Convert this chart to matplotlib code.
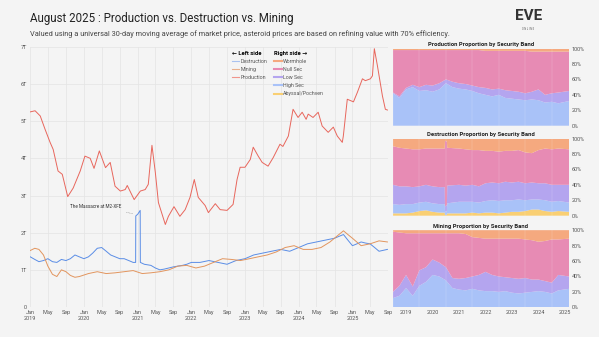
import matplotlib
matplotlib.use("Agg")
import matplotlib.pyplot as plt
import matplotlib.dates as mdates
from matplotlib.lines import Line2D
import pandas as pd

plt.rcParams['font.family'] = ['Roboto', 'DejaVu Sans']

# Left side: 30-day moving averages, in trillions ISK
prod_dates = ['2019-01-01', '2019-02-03', '2019-03-10', '2019-04-12', '2019-05-16', '2019-06-06',
              '2019-07-09', '2019-08-07', '2019-09-13', '2019-10-20', '2019-12-07', '2020-01-08',
              '2020-02-13', '2020-03-10', '2020-04-15', '2020-05-27', '2020-06-28', '2020-07-31',
              '2020-09-05', '2020-10-08', '2020-10-22', '2020-12-08', '2021-01-19', '2021-02-21',
              '2021-03-14', '2021-04-08', '2021-05-01', '2021-05-22', '2021-07-08', '2021-07-29',
              '2021-09-05', '2021-10-15', '2021-11-20', '2021-12-23', '2022-01-21', '2022-02-17',
              '2022-04-05', '2022-04-27', '2022-06-13', '2022-07-16', '2022-09-01', '2022-10-12',
              '2022-11-08', '2022-11-29', '2023-01-01', '2023-02-06', '2023-02-26', '2023-04-01',
              '2023-04-28', '2023-06-07', '2023-07-12', '2023-08-27', '2023-09-16', '2023-10-23',
              '2023-11-24', '2023-12-28', '2024-01-25', '2024-02-21', '2024-03-06', '2024-04-08',
              '2024-05-13', '2024-06-09', '2024-07-20', '2024-08-24', '2024-09-20', '2024-10-24',
              '2024-10-31', '2024-11-27', '2025-01-08', '2025-02-04', '2025-03-10', '2025-03-30',
              '2025-05-03', '2025-05-17', '2025-05-30', '2025-06-20', '2025-07-24', '2025-08-13',
              '2025-08-27']
production = [5.25, 5.28, 5.14, 4.78, 4.43, 4.24, 3.66, 3.57, 2.97, 3.2, 3.66, 4.06,
              4.0, 3.73, 4.2, 3.75, 3.89, 3.25, 3.12, 3.16, 3.27, 2.89, 3.12, 3.16,
              3.3, 4.35, 3.62, 2.81, 2.22, 2.44, 2.7, 2.44, 2.62, 2.95, 3.43, 2.95,
              2.73, 2.54, 2.78, 2.62, 2.6, 2.76, 3.43, 3.76, 3.76, 3.97, 4.3, 4.06,
              3.89, 3.79, 4.02, 4.38, 4.32, 4.6, 5.32, 5.1, 5.24, 5.05, 5.19, 5.1,
              5.24, 4.87, 4.7, 4.84, 4.6, 4.43, 4.6, 5.59, 5.52, 5.78, 6.14, 6.09,
              6.14, 6.22, 6.95, 6.49, 5.68, 5.32, 5.3]

destr_dates = ['2019-01-01', '2019-02-01', '2019-03-01', '2019-04-01', '2019-05-01', '2019-06-01',
               '2019-07-01', '2019-08-01', '2019-09-01', '2019-10-01', '2019-11-01', '2019-12-01',
               '2020-01-01', '2020-02-01', '2020-03-01', '2020-04-01', '2020-05-01', '2020-06-01',
               '2020-07-01', '2020-08-01', '2020-09-01', '2020-10-01', '2020-11-01', '2020-12-01',
               '2020-12-18', '2020-12-19', '2021-01-02', '2021-01-18', '2021-01-19', '2021-02-15',
               '2021-04-01', '2021-05-01', '2021-06-01', '2021-07-01', '2021-08-01', '2021-09-01',
               '2021-10-01', '2021-11-01', '2021-12-01', '2022-01-01', '2022-03-01', '2022-05-01',
               '2022-07-01', '2022-09-01', '2022-11-01', '2023-01-01', '2023-03-01', '2023-05-01',
               '2023-07-01', '2023-09-01', '2023-11-01', '2024-01-01', '2024-03-01', '2024-05-01',
               '2024-07-01', '2024-09-01', '2024-10-01', '2024-11-01', '2024-12-01', '2025-01-01',
               '2025-02-01', '2025-03-01', '2025-04-01', '2025-05-01', '2025-06-01', '2025-07-01',
               '2025-08-27']
destruction = [1.35, 1.28, 1.22, 1.25, 1.3, 1.22, 1.2, 1.28, 1.25, 1.3, 1.4, 1.35,
               1.3, 1.35, 1.45, 1.58, 1.6, 1.5, 1.4, 1.35, 1.3, 1.3, 1.25, 1.2,
               1.2, 2.45, 2.5, 2.6, 1.2, 1.15, 1.12, 1.05, 1.0, 1.02, 1.05, 1.08,
               1.1, 1.12, 1.15, 1.2, 1.2, 1.25, 1.2, 1.15, 1.25, 1.3, 1.4, 1.45,
               1.5, 1.55, 1.5, 1.6, 1.7, 1.75, 1.8, 1.85, 1.9, 1.95, 1.8, 1.65,
               1.7, 1.75, 1.72, 1.7, 1.6, 1.5, 1.55]

mining_dates = ['2019-01-01', '2019-02-01', '2019-03-01', '2019-04-01', '2019-05-01', '2019-06-01',
                '2019-07-01', '2019-08-01', '2019-09-01', '2019-10-01', '2019-11-01', '2019-12-01',
                '2020-02-01', '2020-04-01', '2020-06-01', '2020-08-01', '2020-10-01', '2020-12-01',
                '2021-02-01', '2021-04-01', '2021-06-01', '2021-08-01', '2021-10-01', '2021-12-01',
                '2022-02-01', '2022-04-01', '2022-06-01', '2022-08-01', '2022-10-01', '2022-12-01',
                '2023-02-01', '2023-04-01', '2023-06-01', '2023-08-01', '2023-10-01', '2023-12-01',
                '2024-02-01', '2024-04-01', '2024-06-01', '2024-08-01', '2024-10-01', '2024-11-01',
                '2024-12-01', '2025-01-01', '2025-03-01', '2025-05-01', '2025-07-01', '2025-08-27']
mining = [1.52, 1.58, 1.55, 1.4, 1.1, 0.88, 0.82, 1.0, 0.95, 0.85, 0.8, 0.82,
          0.9, 0.95, 0.9, 0.92, 0.95, 0.98, 0.9, 0.92, 0.95, 1.0, 1.1, 1.12,
          1.05, 1.1, 1.2, 1.3, 1.28, 1.25, 1.3, 1.35, 1.4, 1.48, 1.6, 1.65,
          1.55, 1.55, 1.6, 1.75, 1.95, 2.05, 1.95, 1.85, 1.65, 1.7, 1.78, 1.75]

# Right side: share (%) per security band
band_dates = ['2019-01-01', '2019-04-01', '2019-07-01', '2019-10-01', '2020-01-01', '2020-04-01',
              '2020-07-01', '2020-10-01', '2021-01-01', '2021-04-01', '2021-07-01', '2021-10-01',
              '2022-01-01', '2022-04-01', '2022-07-01', '2022-10-01', '2023-01-01', '2023-04-01',
              '2023-07-01', '2023-10-01', '2024-01-01', '2024-04-01', '2024-07-01', '2024-10-01',
              '2025-01-01', '2025-04-01', '2025-08-27']
prod_abyssal = [0] * 27
prod_high = [42, 36, 47, 50, 45, 46, 44, 47, 55, 50, 48, 47, 45, 42, 40, 38, 40, 36, 35, 34, 33, 34, 33, 30, 31, 29, 32]
prod_low = [1, 2, 2, 3, 5, 7, 8, 8, 5, 7, 7, 7, 7, 8, 9, 9, 8, 10, 10, 10, 9, 10, 14, 10, 11, 14, 13]
prod_null = [55, 60, 49, 45, 48, 45, 46, 43, 38, 41, 43, 44, 46, 48, 48, 50, 49, 51, 52, 53, 55, 52, 49, 56, 54, 53, 51]
prod_wh = [2] * 14 + [3] * 7 + [4] * 6

mine_abyssal = [0] * 27
mine_high = [12, 15, 25, 15, 28, 33, 42, 40, 35, 25, 23, 22, 24, 22, 21, 21, 20, 21, 19, 18, 19, 20, 21, 20, 18, 22, 24]
mine_low = [8, 13, 17, 12, 20, 19, 20, 18, 17, 13, 14, 16, 16, 20, 25, 21, 20, 18, 19, 19, 19, 16, 15, 14, 14, 20, 16]
mine_null = [78, 69, 54, 69, 48, 44, 34, 38, 44, 58, 59, 57, 51, 48, 43, 47, 49, 50, 51, 52, 50, 51, 49, 52, 56, 46, 49]
mine_wh = [2, 3, 4, 4, 4, 4, 4, 4, 4, 4, 4, 5, 9, 10, 11, 11, 11, 11, 11, 11, 12, 13, 15, 14, 12, 12, 11]

destr_band_dates = ['2019-01-01', '2019-04-01', '2019-07-01', '2019-10-01', '2020-01-01', '2020-04-01',
                    '2020-07-01', '2020-10-01', '2020-12-16', '2020-12-19', '2021-01-15', '2021-01-19',
                    '2021-07-01', '2021-10-01', '2022-01-01', '2022-04-01', '2022-07-01', '2022-10-01',
                    '2023-01-01', '2023-04-01', '2023-07-01', '2023-10-01', '2024-01-01', '2024-04-01',
                    '2024-07-01', '2024-10-01', '2025-01-01', '2025-04-01', '2025-08-27']
destr_abyssal = [3, 3, 3, 4, 6, 7, 5, 4, 4, 1, 1, 3, 3, 3, 4, 3, 4, 4, 3, 4, 5, 5, 6, 8, 8, 6, 5, 6, 5]
destr_high = [12, 11, 12, 11, 11, 11, 11, 11, 11, 4, 5, 13, 15, 15, 14, 14, 15, 16, 16, 16, 15, 16, 14, 13, 13, 14, 13, 13, 12]
destr_low = [25, 24, 23, 22, 21, 22, 22, 22, 22, 7, 8, 23, 22, 21, 22, 21, 23, 23, 23, 24, 23, 23, 22, 22, 21, 22, 22, 21, 23]
destr_null = [50, 50, 49, 49, 48, 47, 49, 50, 50, 85, 82, 49, 47, 47, 45, 47, 42, 41, 41, 40, 41, 41, 40, 38, 43, 45, 46, 47, 46]
destr_wh = [10, 12, 13, 14, 14, 13, 13, 13, 13, 3, 4, 12, 13, 14, 15, 15, 16, 16, 17, 16, 16, 15, 18, 19, 15, 13, 14, 13, 14]

band_names = ['Abyssal/Pochven', 'High Sec', 'Low Sec', 'Null Sec', 'Wormhole']
band_colors = ['#f9cf73', '#a9c2f8', '#b4a5ef', '#e78bb4', '#f5a97f']
line_colors = {'Destruction': '#5a8de6', 'Mining': '#e2955e', 'Production': '#e8665c'}

BG = '#f4f4f4'
fig = plt.figure(figsize=(5.99, 3.37), dpi=100, facecolor=BG)

fig.text(0.050, 0.945, "August 2025 : Production vs. Destruction vs. Mining",
         fontsize=8.3, color='#222222', va='center')
fig.text(0.050, 0.898, "Valued using a universal 30-day moving average of market price, asteroid prices "
         "are based on refining value with 70% efficiency.", fontsize=5.3, color='#444444', va='center')
fig.text(0.882, 0.952, "EVE", fontsize=11, fontweight='bold', color='#333333', ha='center', va='center')
fig.text(0.882, 0.915, "O N L I N E", fontsize=1.8, color='#555555', ha='center', va='center')

# ---- main chart ----
ax = fig.add_axes([0.050, 0.089, 0.598, 0.772])
ax.set_facecolor(BG)
ax.plot(pd.to_datetime(destr_dates), destruction, color=line_colors['Destruction'], lw=0.7)
ax.plot(pd.to_datetime(mining_dates), mining, color=line_colors['Mining'], lw=0.7)
ax.plot(pd.to_datetime(prod_dates), production, color=line_colors['Production'], lw=0.7)

ax.set_ylim(0, 7)
ax.set_yticks(range(8))
ax.set_yticklabels(['0'] + [f'{i}T' for i in range(1, 8)])
ax.set_xlim(pd.Timestamp('2018-12-30'), pd.Timestamp('2025-09-01'))
ax.xaxis.set_major_locator(mdates.MonthLocator(bymonth=[1, 5, 9]))


def month_label(x, pos=None):
    d = mdates.num2date(x)
    if d.month == 1:
        return d.strftime('%b\n%Y')
    return d.strftime('%b')


ax.xaxis.set_major_formatter(plt.FuncFormatter(month_label))
ax.tick_params(axis='both', length=0, labelsize=4, colors='#555555', pad=2)
ax.grid(True, color='#e4e4e4', lw=0.5)
ax.set_axisbelow(True)
for s in ax.spines.values():
    s.set_visible(False)

ax.annotate("The Massacre at M2-XFE", xy=(pd.Timestamp('2020-12-16'), 2.5),
            xytext=(pd.Timestamp('2020-09-10'), 2.7), fontsize=3.3, color='#333333',
            ha='right', va='center',
            arrowprops=dict(arrowstyle='-', color='#888888', lw=0.4, linestyle=':'))

# legends
left_handles = [Line2D([], [], color='#a9c2f0', lw=0.8),
                Line2D([], [], color='#e8b08c', lw=0.8),
                Line2D([], [], color='#f0958c', lw=0.8)]
leg1 = ax.legend(left_handles, ['Destruction', 'Mining', 'Production'], title='\u2190 Left side',
                 loc='upper left', bbox_to_anchor=(0.553, 1.0), frameon=False, fontsize=3.8,
                 title_fontsize=4.2, handlelength=1.4, handletextpad=0.3, labelspacing=0.6,
                 labelcolor='#555555', borderaxespad=0.3)
leg1.get_title().set_fontweight('bold')
leg1._legend_box.align = 'left'
ax.add_artist(leg1)

right_handles = [Line2D([], [], color=c, lw=1.5) for c in band_colors[::-1]]
leg2 = ax.legend(right_handles, band_names[::-1], title='Right side \u2192',
                 loc='upper left', bbox_to_anchor=(0.672, 1.0), frameon=False, fontsize=3.8,
                 title_fontsize=4.2, handlelength=1.4, handletextpad=0.3, labelspacing=0.6,
                 labelcolor='#555555', borderaxespad=0.3)
leg2.get_title().set_fontweight('bold')
leg2._legend_box.align = 'left'

# ---- right side stacked panels ----
panels = [
    ("Production Proportion by Security Band", band_dates,
     [prod_abyssal, prod_high, prod_low, prod_null, prod_wh], 0.627),
    ("Destruction Proportion by Security Band", destr_band_dates,
     [destr_abyssal, destr_high, destr_low, destr_null, destr_wh], 0.360),
    ("Mining Proportion by Security Band", band_dates,
     [mine_abyssal, mine_high, mine_low, mine_null, mine_wh], 0.088),
]
for i, (title, dates, shares, bottom) in enumerate(panels):
    pax = fig.add_axes([0.656, bottom, 0.294, 0.229])
    pax.set_facecolor(BG)
    pax.stackplot(pd.to_datetime(dates), *shares, colors=band_colors, lw=0)
    pax.set_xlim(pd.Timestamp('2019-01-01'), pd.Timestamp('2025-08-27'))
    pax.set_ylim(0, 100)
    pax.set_yticks(range(0, 101, 20))
    pax.set_yticklabels([f'{v}%' for v in range(0, 101, 20)])
    pax.yaxis.tick_right()
    pax.xaxis.set_major_locator(mdates.YearLocator())
    pax.xaxis.set_minor_locator(mdates.YearLocator(month=7))
    pax.xaxis.set_major_formatter(plt.NullFormatter())
    if i == 2:
        pax.xaxis.set_minor_formatter(mdates.DateFormatter('%Y'))
    else:
        pax.xaxis.set_minor_formatter(plt.NullFormatter())
    pax.tick_params(axis='both', which='both', length=0, labelsize=4, colors='#555555', pad=2)
    pax.grid(True, axis='x', which='major', color='#ffffff', lw=0.3, alpha=0.35)
    for s in pax.spines.values():
        s.set_visible(False)
    pax.set_title(title, fontsize=4.2, fontweight='bold', color='#222222', pad=1.5)

fig.savefig('out.png', dpi=100, facecolor=BG)
